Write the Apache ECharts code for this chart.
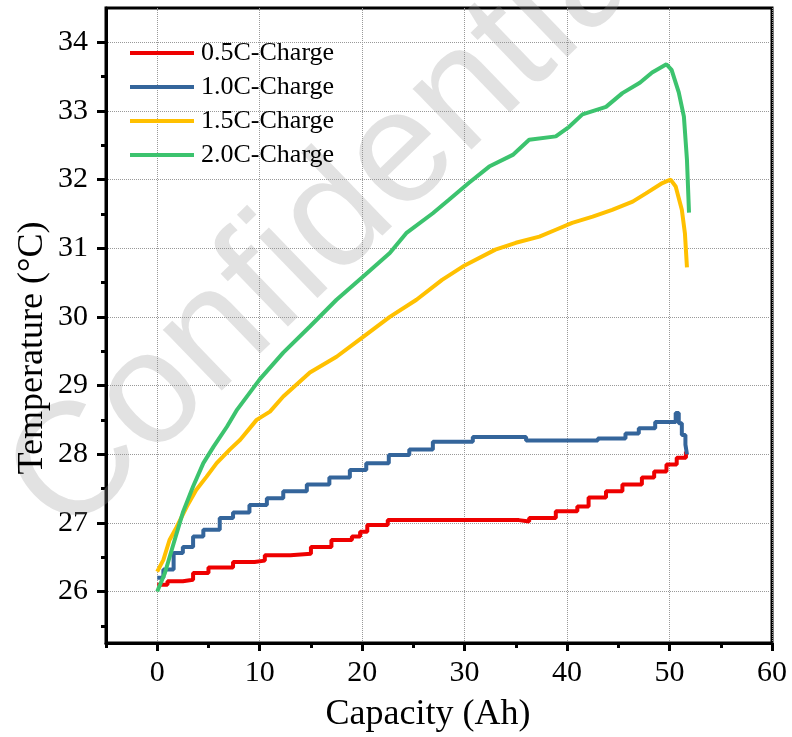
<!DOCTYPE html>
<html>
<head>
<meta charset="utf-8">
<script src="https://cdn.jsdelivr.net/npm/echarts@6/dist/echarts.min.js"></script>
<style>
html, body { margin: 0; padding: 0; background: #fff; }
#chart { width: 792px; height: 737px; }
</style>
</head>
<body>
<div id="chart"></div>
<script>
// capacity (Ah), temperature (°C)
const seriesNames = ['0.5C-Charge', '1.0C-Charge', '1.5C-Charge', '2.0C-Charge']
const seriesColors = ['#ee0000', '#34659b', '#ffc000', '#3cc36e']

const charge05 = [
  [0, 26.1], [1, 26.15], [2.5, 26.17], [3.5, 26.27], [5, 26.35], [7.4, 26.43], [9.5, 26.45],
  [10.5, 26.53], [13, 26.55], [15, 26.65], [17, 26.75], [19, 26.8], [19.8, 26.87], [20.5, 26.97],
  [22.5, 27.04], [30, 27.04], [35.3, 27.02], [36.3, 27.07], [38.9, 27.17], [41, 27.24],
  [42.1, 27.37], [43.8, 27.46], [45.4, 27.56], [47.3, 27.66], [48.5, 27.75], [49.7, 27.85],
  [50.7, 27.95], [51.6, 28.04]
]
const charge10 = [
  [0, 26.2], [0.6, 26.32], [1.6, 26.56], [2.5, 26.65], [3.5, 26.8], [4.5, 26.9], [6.1, 27.07],
  [7.4, 27.15], [9, 27.26], [10.7, 27.36], [12.3, 27.46], [14.6, 27.56], [16.8, 27.66],
  [18.8, 27.77], [20.4, 27.87], [22.6, 27.99], [24.6, 28.07], [26.9, 28.18], [30.8, 28.25],
  [34.5, 28.25], [36, 28.2], [43, 28.23], [45.7, 28.3], [47, 28.38], [48.6, 28.47],
  [50.6, 28.6], [50.9, 28.45], [51.2, 28.28], [51.55, 28.14], [51.7, 28.0]
]
const charge15 = [
  [0, 26.29], [0.6, 26.46], [1.2, 26.75], [1.9, 26.94], [2.9, 27.24], [3.8, 27.48], [4.8, 27.67],
  [5.8, 27.87], [7.1, 28.07], [8.1, 28.21], [9.7, 28.5], [11, 28.62], [12.3, 28.84], [14.9, 29.19],
  [17.5, 29.42], [20.1, 29.71], [22.7, 30.0], [25.3, 30.25], [27.8, 30.54], [30, 30.75],
  [33, 30.98], [35, 31.08], [37.3, 31.17], [38.9, 31.27], [40.5, 31.37], [42.5, 31.46],
  [44.4, 31.56], [46.4, 31.68], [47.7, 31.8], [49.3, 31.95], [50.1, 32.0], [50.6, 31.9],
  [51.2, 31.56], [51.5, 31.22], [51.7, 30.72]
]
const charge20 = [
  [0, 26.0], [0.75, 26.27], [1.6, 26.7], [2.5, 27.15], [3.5, 27.53], [4.5, 27.87], [5.5, 28.11],
  [6.8, 28.4], [7.8, 28.65], [10, 29.09], [12.3, 29.48], [14.9, 29.86], [17.5, 30.25],
  [20.1, 30.59], [22.7, 30.93], [24.3, 31.22], [26.9, 31.51], [28.5, 31.71], [30.4, 31.95],
  [32.4, 32.19], [34.7, 32.36], [36.3, 32.58], [38.9, 32.63], [40.2, 32.77], [41.5, 32.95],
  [43.8, 33.06], [45.4, 33.26], [47.1, 33.41], [48.3, 33.56], [49.7, 33.68], [50.2, 33.6],
  [50.9, 33.27], [51.4, 32.92], [51.7, 32.29], [51.9, 31.52]
]

const xTicks = [0, 10, 20, 30, 40, 50, 60]
const xMinorTicks = [-5, 5, 15, 25, 35, 45, 55]
const yTicks = [26, 27, 28, 29, 30, 31, 32, 33, 34]
const yMinorTicks = [25.5, 26.5, 27.5, 28.5, 29.5, 30.5, 31.5, 32.5, 33.5]

const serif = 'Liberation Serif, Times New Roman, serif'
const chart = echarts.init(document.getElementById('chart'))

const gridLine = { show: true, lineStyle: { color: '#999', type: 'dotted', width: 1 } }

const option = {
  animation: false,
  backgroundColor: '#fff',
  grid: {
    left: 106, right: 20, top: 8, bottom: 94,
    show: true, borderColor: '#000', borderWidth: 3
  },
  legend: {
    data: seriesNames,
    orient: 'vertical',
    left: 125,
    top: 35,
    icon: 'rect',
    itemWidth: 64,
    itemHeight: 4,
    itemGap: 8,
    textStyle: { fontFamily: serif, fontSize: 26, lineHeight: 26, color: '#000', padding: [0, 0, 0, 2] }
  },
  xAxis: [
    {
      type: 'value', min: -5, max: 60,
      axisLine: { show: true, onZero: false, lineStyle: { color: '#000', width: 3 } },
      axisTick: { show: true, customValues: xTicks, length: 8, lineStyle: { color: '#000', width: 3 } },
      axisLabel: { customValues: xTicks, margin: 15, fontFamily: serif, fontSize: 30, color: '#000' },
      splitLine: gridLine
    },
    {
      type: 'value', min: -5, max: 60, position: 'bottom', gridIndex: 0,
      axisLine: { show: false, onZero: false },
      axisTick: { show: true, customValues: xMinorTicks, length: 5, lineStyle: { color: '#000', width: 3 } },
      axisLabel: { show: false },
      splitLine: { show: false }
    }
  ],
  yAxis: [
    {
      type: 'value', min: 25.25, max: 34.5, splitNumber: 9,
      axisLine: { show: true, onZero: false, lineStyle: { color: '#000', width: 3 } },
      axisTick: { show: true, customValues: yTicks, length: 9, lineStyle: { color: '#000', width: 3 } },
      axisLabel: { customValues: yTicks, margin: 18, fontFamily: serif, fontSize: 30, color: '#000' },
      splitLine: gridLine
    },
    {
      type: 'value', min: 25.25, max: 34.5, position: 'left', gridIndex: 0,
      axisLine: { show: false, onZero: false },
      axisTick: { show: true, customValues: yMinorTicks, length: 5, lineStyle: { color: '#000', width: 3 } },
      axisLabel: { show: false },
      splitLine: { show: false }
    }
  ],
  graphic: [
    {
      type: 'text', z: 1, x: 340, y: 215, rotation: 44 * Math.PI / 180,
      style: {
        text: 'Confidential', fill: 'rgba(150,150,150,0.28)',
        font: '160px "Liberation Sans", Arial, sans-serif',
        textAlign: 'center', textVerticalAlign: 'middle'
      }
    },
    {
      type: 'text', z: 10, x: 428, y: 715,
      style: { text: 'Capacity (Ah)', fill: '#000', font: '36px ' + serif, textAlign: 'center', textVerticalAlign: 'middle' }
    },
    {
      type: 'text', z: 10, x: 33, y: 348, rotation: Math.PI / 2,
      style: { text: 'Temperature (°C)', fill: '#000', font: '36px ' + serif, textAlign: 'center', textVerticalAlign: 'middle' }
    }
  ],
  series: [
    { name: seriesNames[0], type: 'line', data: charge05, step: 'end' },
    { name: seriesNames[1], type: 'line', data: charge10, step: 'end' },
    { name: seriesNames[2], type: 'line', data: charge15 },
    { name: seriesNames[3], type: 'line', data: charge20 }
  ].map((s, i) => Object.assign(s, {
    showSymbol: false,
    symbol: 'none',
    color: seriesColors[i],
    lineStyle: { width: 4, color: seriesColors[i] },
    z: 3 + i
  }))
}

chart.setOption(option)
</script>
</body>
</html>
